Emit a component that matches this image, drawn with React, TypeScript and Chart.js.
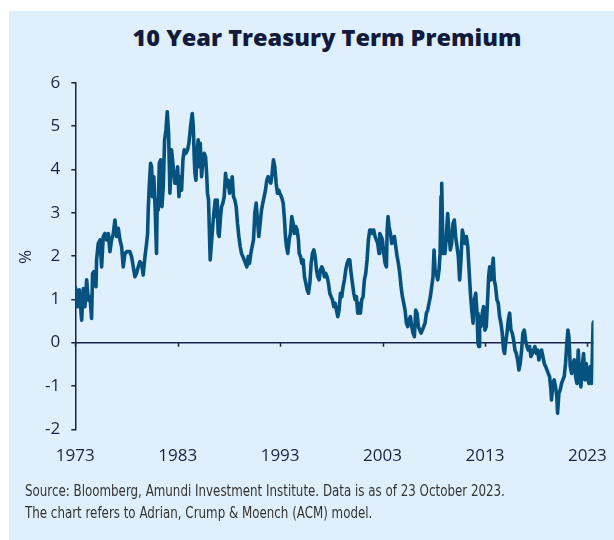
import React, { useEffect, useRef } from "react";
import { Chart, registerables } from "chart.js";

Chart.register(...registerables);

// ---- Data ----
const years = [
  1973.0, 1973.07, 1973.2, 1973.39, 1973.62, 1973.78, 1973.94, 1974.11, 1974.27, 1974.43, 1974.59, 1974.69, 1974.82,
  1975.02, 1975.08, 1975.24, 1975.41, 1975.57, 1975.73, 1975.89, 1976.06, 1976.22, 1976.38, 1976.54, 1976.71, 1976.87,
  1977.03, 1977.2, 1977.36, 1977.52, 1977.68, 1977.85, 1978.01, 1978.33, 1978.5, 1978.66, 1978.82, 1978.98, 1979.15,
  1979.31, 1979.47, 1979.63, 1979.8, 1979.96, 1980.06, 1980.12, 1980.22, 1980.35, 1980.45, 1980.54, 1980.67, 1980.8,
  1980.93, 1981.0, 1981.1, 1981.2, 1981.33, 1981.46, 1981.59, 1981.72, 1981.85, 1981.98, 1982.11, 1982.24, 1982.4,
  1982.56, 1982.72,
  1982.89, 1982.99, 1983.12, 1983.25, 1983.38, 1983.51, 1983.64, 1983.8, 1983.96, 1984.09, 1984.19, 1984.29, 1984.42,
  1984.52, 1984.61, 1984.68, 1984.78, 1984.87, 1985.0, 1985.1, 1985.2, 1985.33, 1985.46, 1985.59, 1985.72, 1985.82,
  1985.91, 1986.01, 1986.08, 1986.17, 1986.27, 1986.37, 1986.47, 1986.56, 1986.66, 1986.76, 1986.86, 1986.95, 1987.05,
  1987.18, 1987.28, 1987.41, 1987.54, 1987.67, 1987.8, 1987.93, 1988.06, 1988.19, 1988.32, 1988.45, 1988.58, 1988.71,
  1988.84, 1988.97, 1989.1, 1989.23, 1989.36, 1989.49, 1989.62, 1989.75, 1989.88, 1990.01, 1990.14, 1990.27, 1990.4,
  1990.53, 1990.66, 1990.79, 1990.92, 1991.05, 1991.18, 1991.31, 1991.44, 1991.57, 1991.7, 1991.83, 1991.96, 1992.09,
  1992.22, 1992.35, 1992.48, 1992.61, 1992.74, 1992.87,
  1992.97, 1993.13, 1993.3, 1993.43, 1993.52, 1993.62, 1993.75, 1993.88, 1994.01, 1994.14, 1994.27, 1994.4, 1994.53,
  1994.66, 1994.79, 1994.86, 1994.99, 1995.12, 1995.25, 1995.38, 1995.51, 1995.64, 1995.77, 1995.9, 1996.03, 1996.16,
  1996.29, 1996.42, 1996.55, 1996.68, 1996.81, 1996.94, 1997.07, 1997.2, 1997.33, 1997.46, 1997.59, 1997.72, 1997.85,
  1997.98, 1998.11, 1998.24, 1998.37, 1998.5, 1998.63, 1998.76, 1998.89, 1999.02, 1999.15, 1999.28, 1999.41, 1999.54,
  1999.67, 1999.8, 1999.93, 2000.06, 2000.19, 2000.32, 2000.45, 2000.58, 2000.71, 2000.84, 2000.97, 2001.1, 2001.23,
  2001.36, 2001.49, 2001.62, 2001.75, 2001.88, 2002.01, 2002.14, 2002.27, 2002.4, 2002.53, 2002.66,
  2002.73, 2002.86, 2002.99, 2003.12, 2003.25, 2003.38, 2003.45, 2003.54, 2003.64, 2003.77, 2003.9, 2004.03, 2004.16,
  2004.29, 2004.42, 2004.55, 2004.68, 2004.81, 2004.94, 2005.07, 2005.2, 2005.33, 2005.46, 2005.59, 2005.72, 2005.85,
  2005.98, 2006.11, 2006.24, 2006.37, 2006.5, 2006.63, 2006.76, 2006.89, 2007.02, 2007.15, 2007.28, 2007.41, 2007.54,
  2007.67, 2007.8, 2007.93, 2008.03, 2008.13, 2008.26, 2008.39, 2008.52, 2008.62, 2008.71, 2008.78, 2008.84, 2008.91,
  2009.01, 2009.1, 2009.23, 2009.36, 2009.49, 2009.62, 2009.75, 2009.88, 2010.01, 2010.14, 2010.27, 2010.4, 2010.53,
  2010.66, 2010.79, 2010.92, 2011.05, 2011.19, 2011.32, 2011.45, 2011.58, 2011.71, 2011.84, 2011.97, 2012.1, 2012.23,
  2012.32, 2012.42,
  2012.48, 2012.61, 2012.74, 2012.87, 2013.0, 2013.13, 2013.26, 2013.36, 2013.46, 2013.59, 2013.72, 2013.81, 2013.91,
  2014.04, 2014.17, 2014.3, 2014.43, 2014.56, 2014.69, 2014.82, 2014.92, 2015.02, 2015.15, 2015.28, 2015.41, 2015.54,
  2015.67, 2015.8, 2015.93, 2016.06, 2016.19, 2016.32, 2016.45, 2016.58, 2016.71, 2016.84, 2016.97, 2017.1, 2017.23,
  2017.36, 2017.49, 2017.62, 2017.75, 2017.88, 2018.01, 2018.14, 2018.27, 2018.4, 2018.53, 2018.66, 2018.79, 2018.92,
  2019.05, 2019.18, 2019.31, 2019.44, 2019.5, 2019.63, 2019.76, 2019.89, 2020.02, 2020.09, 2020.22, 2020.35, 2020.48,
  2020.61, 2020.74, 2020.87, 2021.0, 2021.1, 2021.2, 2021.33, 2021.46, 2021.59, 2021.72, 2021.85, 2021.98, 2022.11,
  2022.24, 2022.37, 2022.5, 2022.63, 2022.76, 2022.89, 2022.99, 2023.15, 2023.28, 2023.41, 2023.5, 2023.56, 2023.62,
];

const premium = [
  1.28, 1.22, 0.83, 1.22, 0.52, 1.25, 0.83, 1.45, 0.98, 1.06, 0.56, 1.6, 1.64,
  1.29, 1.91, 2.29, 2.37, 1.75, 2.45, 2.52, 2.37, 2.52, 2.1, 2.37, 2.52, 2.83,
  2.45, 2.64, 2.37, 2.22, 1.75, 2.06, 2.1, 2.1, 1.98, 1.75, 1.52, 1.6, 1.75,
  1.87, 1.83, 1.56, 1.98, 2.29, 2.52, 3.06, 3.6, 4.14, 4.06, 3.37, 3.83, 3.06,
  2.06, 3.29, 3.06, 4.14, 4.22, 3.14, 3.6, 4.68, 4.91, 5.33, 4.83, 3.45, 4.45,
  4.06, 3.68,
  3.68, 4.06, 3.37, 3.83, 3.52, 4.22, 4.45, 4.37, 4.45, 4.6, 4.83, 5.06, 5.29,
  4.99, 4.29, 3.91, 3.75, 4.37, 4.68, 4.06, 4.6, 3.83, 4.22, 4.37, 4.29, 3.91,
  3.45, 3.29, 2.68, 1.91, 2.22, 2.52, 2.83, 3.06, 3.29, 2.91, 3.29, 2.52, 2.45,
  2.91, 3.14, 3.22, 3.37, 3.91, 3.6, 3.75, 3.45, 3.52, 3.83, 3.37, 3.29, 3.14,
  2.75, 2.45, 2.22, 2.06, 1.99, 1.91, 1.83, 1.75, 1.99, 1.83, 2.06, 2.22, 2.37,
  2.99, 3.22, 2.83, 2.45, 2.75, 3.06, 3.22, 3.37, 3.52, 3.75, 3.83, 3.75, 3.68,
  3.91, 4.22, 4.06, 3.68, 3.45, 3.52,
  3.45, 3.37, 3.22, 2.83, 2.45, 2.22, 2.06, 2.37, 2.52, 2.91, 2.75, 2.52, 2.68,
  2.6, 2.37, 2.06, 1.99, 1.83, 1.91, 1.52, 1.37, 1.22, 1.14, 1.37, 1.83, 2.06,
  2.14, 1.99, 1.68, 1.52, 1.45, 1.68, 1.75, 1.68, 1.52, 1.6, 1.52, 1.37, 1.14,
  1.06, 0.99, 0.83, 0.91, 0.75, 0.6, 0.75, 1.14, 1.06, 1.29, 1.45, 1.68, 1.83,
  1.91, 1.91, 1.6, 1.37, 1.14, 0.99, 1.06, 0.68, 0.91, 0.68, 0.99, 1.06, 1.45,
  1.6, 1.91, 2.37, 2.6, 2.6, 2.52, 2.6, 2.45, 2.37, 2.29, 2.06,
  2.52, 2.45, 2.37, 2.06, 1.83, 1.75, 2.6, 2.91, 2.68, 2.52, 2.29, 2.37, 2.45,
  2.22, 1.99, 1.83, 1.6, 1.29, 1.06, 0.91, 0.75, 0.45, 0.37, 0.52, 0.6, 0.37,
  0.22, 0.14, 0.75, 0.68, 0.37, 0.29, 0.22, 0.29, 0.37, 0.45, 0.68, 0.75, 0.91,
  1.06, 1.29, 1.52, 2.14, 1.68, 1.6, 1.45, 1.68, 2.06, 3.37, 3.68, 2.91, 2.06,
  2.22, 2.06, 2.45, 2.98, 2.52, 2.14, 2.29, 2.75, 2.83, 2.45, 2.22, 1.99, 1.45,
  1.91, 2.6, 2.45, 2.29, 2.45, 2.22, 1.68, 1.14, 0.75, 0.45, 0.99, 1.14, 0.68,
  -0.02, -0.09,
  0.6, 0.37, 0.68, 0.83, 0.29, 0.37, 0.99, 1.52, 1.75, 1.45, 1.75, 1.95, 1.45,
  1.29, 0.99, 0.91, 0.6, 0.45, 0.22, -0.17, -0.25, -0.01, 0.22, 0.52, 0.68, 0.29,
  0.22, 0.06, -0.17, -0.25, -0.4, -0.63, -0.48, -0.17, 0.22, 0.29, 0.06, -0.09, -0.17,
  -0.09, -0.32, -0.25, -0.17, -0.09, -0.25, -0.17, -0.4, -0.25, -0.17, -0.32, -0.48, -0.55,
  -0.63, -0.71, -0.78, -1.09, -1.32, -0.94, -0.86, -1.02, -1.25, -1.63, -1.17, -1.09, -0.94,
  -0.86, -0.78, -0.48, -0.01, 0.29, 0.14, -0.55, -0.71, -0.48, -0.4, -0.78, -0.94, -0.17,
  -0.78, -1.02, -0.55, -0.25, -0.86, -0.48, -0.78, -0.94, -0.55, -0.94, -0.17, 0.45, 0.48,
];

const xTickYears = [1973, 1983, 1993, 2003, 2013, 2023];
const xMin = 1973;
const xMax = 2023.6;
const yMin = -2;
const yMax = 6;

const TITLE = "10 Year Treasury Term Premium";
const Y_TITLE = "%";
const SOURCE_LINES = [
  "Source: Bloomberg, Amundi Investment Institute. Data is as of 23 October 2023.",
  "The chart refers to Adrian, Crump & Moench (ACM) model.",
];

// ---- Styles ----
const BG = "#dff0fc";
const NAVY = "#1a2246";
const LINE = "#06527f";
const TICK_FONT = "'Open Sans', sans-serif";

const CANVAS_W = 605;
const CANVAS_H = 529;

const zeroLinePlugin = {
  id: "zeroLine",
  beforeDatasetsDraw(chart: any) {
    const { ctx, chartArea, scales } = chart;
    const y0 = scales.y.getPixelForValue(0);
    ctx.save();
    ctx.strokeStyle = NAVY;
    ctx.lineWidth = 1.5;
    ctx.beginPath();
    ctx.moveTo(chartArea.left, y0);
    ctx.lineTo(chartArea.right, y0);
    for (const yr of xTickYears) {
      const px = Math.round(scales.x.getPixelForValue(yr)) + 0.5;
      ctx.moveTo(px, y0);
      ctx.lineTo(px, y0 + 4);
    }
    ctx.stroke();
    ctx.restore();
  },
};

export default function App() {
  const canvasRef = useRef<HTMLCanvasElement | null>(null);

  useEffect(() => {
    if (!canvasRef.current) return;
    const points = years.map((x, i) => ({ x, y: premium[i] }));
    const chart = new Chart(canvasRef.current, {
      type: "line",
      data: {
        datasets: [
          {
            data: points,
            borderColor: LINE,
            borderWidth: 3.6,
            pointRadius: 0,
            tension: 0,
            fill: false,
            borderJoinStyle: "round",
            borderCapStyle: "round",
          } as any,
        ],
      },
      options: {
        animation: false,
        responsive: false,
        devicePixelRatio: 1,
        layout: { padding: { left: 0, right: 20.5, top: 71.7, bottom: 60.7 } },
        plugins: {
          legend: { display: false },
          tooltip: { enabled: false },
          title: { display: false },
        },
        scales: {
          x: {
            type: "linear",
            min: xMin,
            max: xMax,
            afterBuildTicks: (s: any) => {
              s.ticks = xTickYears.map((v) => ({ value: v }));
            },
            afterFit: (s: any) => {
              s.height = 50;
              s.paddingLeft = 0;
              s.paddingRight = 0;
            },
            ticks: {
              callback: (v: any) => String(v),
              color: NAVY,
              font: { family: TICK_FONT, size: 17 },
              padding: 17,
              maxRotation: 0,
              autoSkip: false,
            },
            grid: { display: false, drawTicks: false },
            border: { display: false },
          },
          y: {
            min: yMin,
            max: yMax,
            afterFit: (s: any) => {
              s.width = 66.3;
            },
            ticks: {
              stepSize: 1,
              color: NAVY,
              font: { family: TICK_FONT, size: 17 },
              padding: 11,
            },
            grid: {
              display: true,
              drawOnChartArea: false,
              drawTicks: true,
              tickLength: 4,
              color: NAVY,
              lineWidth: 1.5,
            },
            border: { display: true, color: NAVY, width: 1.5 },
          },
        },
      },
      plugins: [zeroLinePlugin],
    });
    return () => chart.destroy();
  }, []);

  return (
    <div
      style={{
        position: "absolute",
        left: 9,
        top: 11,
        width: CANVAS_W,
        height: CANVAS_H,
        background: BG,
        overflow: "hidden",
      }}
    >
      <div
        style={{
          position: "absolute",
          left: 15.5,
          width: CANVAS_W,
          top: 13,
          height: 26,
          lineHeight: "26px",
          textAlign: "center",
          fontFamily: "'Open Sans', sans-serif",
          fontWeight: 800,
          fontSize: 23.5,
          color: "#121b3d",
          whiteSpace: "nowrap",
        }}
      >
        {TITLE}
      </div>
      <canvas
        ref={canvasRef}
        width={CANVAS_W}
        height={CANVAS_H}
        style={{ position: "absolute", left: 0, top: 0, width: CANVAS_W, height: CANVAS_H }}
      />
      <div
        style={{
          position: "absolute",
          left: 16 - 15,
          top: 246 - 12,
          width: 30,
          height: 24,
          lineHeight: "24px",
          textAlign: "center",
          transform: "rotate(-90deg)",
          fontFamily: TICK_FONT,
          fontSize: 17,
          color: NAVY,
        }}
      >
        {Y_TITLE}
      </div>
      <div
        style={{
          position: "absolute",
          left: 16,
          top: 469,
          fontFamily: "'DejaVu Sans Condensed', 'Liberation Sans Narrow', sans-serif",
          fontSize: 16.5,
          lineHeight: "21.5px",
          color: "#333333",
          whiteSpace: "nowrap",
          transform: "scaleX(0.8)",
          transformOrigin: "left top",
        }}
      >
        {SOURCE_LINES.map((l, i) => (
          <div key={i}>{l}</div>
        ))}
      </div>
    </div>
  );
}
